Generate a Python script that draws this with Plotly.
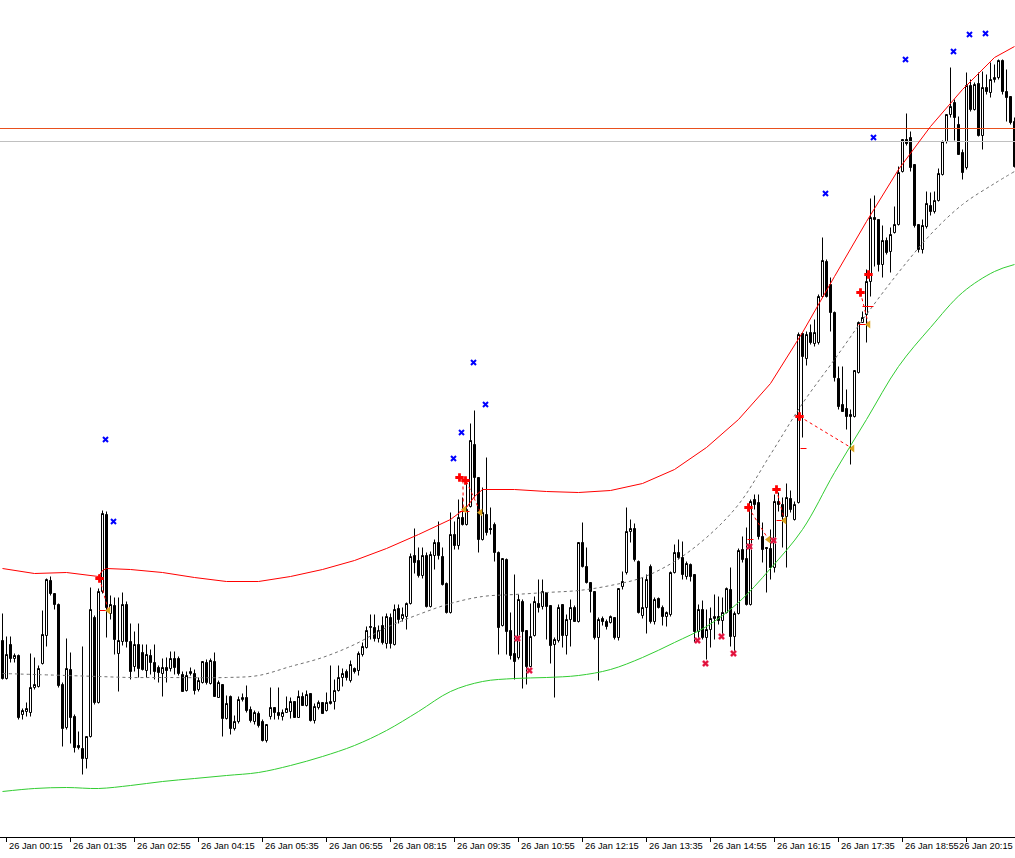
import datetime as dt
import plotly.graph_objects as go

# ---------------- data (price in points) ----------------
start = dt.datetime(2025, 1, 26, 0, 10)
n_bars = 254
bar = list(range(n_bars))
times = [start + dt.timedelta(minutes=5 * k) for k in bar]

open_ = [359,321,355,341,344,285,288,287,312,313,
         336,364,419,406,395,315,272,330,283,254,
         251,241,263,382,297,408,485,386,394,346,
         358,395,358,333,355,347,329,344,337,332,
         326,332,331,341,341,325,309,326,326,310,
         317,337,316,338,302,315,281,303,271,278,
         300,302,290,278,286,278,259,283,292,287,
         283,287,288,298,282,303,294,306,279,292,
         297,289,296,298,309,322,328,319,331,329,
         345,352,372,372,361,374,356,382,355,391,
         381,383,396,444,439,424,444,393,444,457,
         443,416,387,465,454,482,475,493,555,522,
         460,485,471,475,447,374,440,369,346,342,
         398,369,333,364,396,393,407,394,355,359,
         395,364,380,392,378,457,433,417,408,362,
         381,378,377,382,362,413,427,468,471,438,
         384,392,433,378,401,392,383,385,427,447,
         442,423,435,425,368,390,362,370,381,383,
         379,387,410,363,386,450,441,395,500,497,
         463,452,451,432,498,495,483,501,480,497,
         666,641,667,656,657,703,738,715,687,621,
         595,591,585,583,627,677,685,718,782,780,
         735,759,748,767,775,828,860,862,835,775,
         750,773,794,788,799,825,858,885,897,875,
         847,832,914,890,916,864,912,907,920,922,
         939,908,903,878]

high = [386,363,363,346,345,291,297,346,342,334,
        389,421,423,406,396,317,361,347,285,268,
        353,263,412,384,411,489,488,404,402,402,
        407,398,376,368,376,355,355,350,355,334,
        341,342,348,348,343,328,328,332,330,322,
        338,340,341,347,319,315,304,304,284,303,
        306,314,293,289,288,280,275,312,292,312,
        290,303,302,298,309,307,309,306,296,299,
        297,307,334,320,334,331,330,339,332,348,
        357,373,385,385,374,383,386,386,395,395,
        392,397,446,471,452,452,447,448,460,478,
        452,417,487,478,500,502,520,576,589,522,
        512,542,492,477,448,441,441,387,425,405,
        400,369,396,403,420,420,407,394,362,395,
        395,385,400,394,457,477,452,417,408,382,
        383,380,384,382,411,428,492,480,476,439,
        422,425,435,402,402,394,388,428,455,460,
        458,438,436,425,395,399,390,392,405,403,
        402,412,432,388,451,463,472,500,505,505,
        477,452,470,505,507,502,516,509,498,667,
        667,668,675,680,705,762,740,722,688,633,
        633,610,590,629,678,688,730,801,804,780,
        774,762,772,793,833,860,886,868,835,775,
        780,808,807,808,831,859,885,932,900,883,
        850,927,920,917,927,928,925,937,935,940,
        940,930,903,882]

low = [320,320,337,337,280,280,283,283,310,312,
       335,353,404,390,312,253,270,256,247,250,
       225,231,262,295,296,406,362,380,345,308,
       354,352,320,328,322,329,322,325,320,317,
       303,317,328,325,324,308,308,324,305,308,
       316,315,315,303,302,263,280,265,269,276,
       298,287,277,275,272,258,257,280,280,280,
       279,287,281,282,282,294,293,278,276,290,
       286,288,295,290,308,313,319,317,326,324,
       343,351,360,358,357,355,351,351,354,376,
       378,370,395,426,422,421,392,392,430,440,
       414,386,386,450,450,474,474,492,502,447,
       459,464,465,438,345,373,345,340,320,340,
       311,315,332,363,387,390,360,336,302,357,
       352,345,353,378,377,432,416,387,360,319,
       374,370,376,360,359,410,425,457,438,386,
       381,366,376,375,391,374,373,383,426,440,
       420,420,418,357,359,360,340,352,360,375,
       363,386,353,348,385,437,394,394,490,460,
       437,407,420,427,488,452,432,487,479,496,
       562,634,655,653,655,702,702,668,618,590,
       588,570,535,582,626,677,657,703,733,728,
       722,745,727,766,774,827,854,828,772,747,
       746,771,784,786,798,824,856,882,859,845,
       820,830,888,889,863,850,905,902,917,920,
       905,878,875,832]

close = [321,345,341,344,282,289,291,312,315,331,
         365,420,406,395,314,271,331,282,252,252,
         241,263,390,297,408,486,392,395,360,359,
         395,358,328,355,331,330,345,337,328,327,
         332,329,341,332,326,308,324,328,309,319,
         338,317,339,303,317,281,296,271,278,300,
         302,289,279,287,274,259,275,292,287,284,
         287,291,298,282,303,294,305,279,293,297,
         286,297,298,309,322,326,322,335,328,346,
         353,369,373,361,369,357,383,356,390,380,
         385,396,443,437,424,444,393,445,457,444,
         415,387,465,454,482,475,490,559,522,460,
         487,467,470,447,372,441,368,344,338,400,
         368,333,363,398,392,408,393,354,360,392,
         364,380,392,378,457,433,417,408,362,380,
         378,373,383,362,411,418,468,471,440,387,
         392,420,378,400,392,383,387,427,447,442,
         425,436,423,368,390,362,370,381,383,379,
         387,411,363,386,449,440,395,498,495,463,
         450,451,432,498,495,483,502,490,495,665,
         643,665,657,667,703,739,703,687,622,593,
         588,583,583,629,677,682,718,782,780,735,
         759,747,765,775,827,860,856,832,774,750,
         774,796,788,799,826,858,885,893,882,845,
         827,914,890,915,864,912,908,920,922,939,
         908,902,877,833]

# envelope bands (bar index, value)
upper_bar = [0,8,16,24,25,26,32,40,48,56,64,72,80,88,96,104,112,116,118,120,128,136,
             144,152,160,168,176,184,192,200,208,216,224,232,240,248,253]
upper_val = [431,426,427,423,429,431,430,427,422,418,418,423,430,439,451,465,480,492,503,510,
             510,508,507,509,516,530,552,580,616,667,723,778,830,873,910,942,953]

mid_bar = [0,16,24,32,40,56,64,72,80,88,96,104,112,120,128,136,144,152,160,168,176,184,
           192,200,208,216,224,232,240,248,253]
mid_val = [326,324,323,322,322,322,324,333,342,355,372,385,396,403,405,407,409,414,422,438,
           462,495,545,596,640,685,727,765,795,816,828]

lower_bar = [0,8,16,24,32,40,48,56,64,72,80,88,96,104,112,120,128,136,144,152,160,168,176,
             184,192,200,208,216,224,232,240,248,253]
lower_val = [208,211,212,211,214,218,221,224,227,234,243,254,269,288,308,318,321,322,324,330,
             342,357,373,397,431,470,527,580,633,672,707,728,735]

# horizontal price levels
level_red = 871
level_grey = 858

# signal markers (bar position, price)
blue_pos = [25.75, 27.75, 112.75, 114.75, 117.75, 120.75, 205.75, 217.75, 225.75, 237.75, 241.75, 245.75]
blue_val = [560, 478, 541, 567, 637, 595, 806, 862, 940, 948, 965, 966]

redx_pos = [128.75, 131.75, 173.75, 175.75, 179.75, 182.75, 186.75, 192.75]
redx_val = [361, 329, 359, 336, 363, 346, 453, 459]

plus_pos = [24.25, 114.25, 115.75, 186.5, 193.5, 199.25, 214.5, 216.5]
plus_val = [421, 522, 519, 492, 510, 583, 707, 725]

tri_pos = [26.5, 115.5, 119.5, 191.5, 195.5, 212.5, 216.5]
tri_val = [389, 490, 487, 460, 479, 551, 675]

# dashed links: (pos0, val0, pos1, val1)
links = [(24.25, 421, 26.5, 389), (115.1, 519, 115.2, 490), (116.0, 518, 119.5, 487),
         (186.5, 492, 191.5, 460), (193.5, 510, 195.5, 479), (199.25, 583, 212.5, 551),
         (214.5, 707, 216.5, 675)]
# short level ticks: (pos0, pos1, val)
ticks_lv = [(24.25, 26.25, 389), (114.25, 116.75, 488), (186.25, 187.75, 460),
            (193.5, 195.0, 479), (199.5, 201.0, 551), (215.0, 217.75, 693), (214.0, 216.5, 675)]

tick_bars = [1 + 16 * j for j in range(16)]
tick_text = [times[k].strftime("%d %b %H:%M") for k in tick_bars]

X_RANGE = [-0.625, 253.125]
Y_RANGE = [162.5, 999.5]

# ---------------- figure ----------------
fig = go.Figure()

fig.add_trace(go.Candlestick(
    x=bar, open=open_, high=high, low=low, close=close,
    increasing=dict(line=dict(color="black", width=1), fillcolor="white"),
    decreasing=dict(line=dict(color="black", width=1), fillcolor="black"),
    whiskerwidth=0, hoverinfo="skip", showlegend=False))

fig.add_trace(go.Scatter(x=X_RANGE, y=[level_red, level_red], mode="lines",
                         line=dict(color="#E8501E", width=1), hoverinfo="skip"))
fig.add_trace(go.Scatter(x=X_RANGE, y=[level_grey, level_grey], mode="lines",
                         line=dict(color="#C0C0C0", width=1), hoverinfo="skip"))

fig.add_trace(go.Scatter(x=upper_bar, y=upper_val, mode="lines",
                         line=dict(color="#FF0000", width=1), hoverinfo="skip"))
fig.add_trace(go.Scatter(x=mid_bar, y=mid_val, mode="lines", line_shape="spline",
                         line=dict(color="#707070", width=1, dash="3px,3px"), hoverinfo="skip"))
fig.add_trace(go.Scatter(x=lower_bar, y=lower_val, mode="lines", line_shape="spline",
                         line=dict(color="#32CD32", width=1), hoverinfo="skip"))

for p0, v0, p1, v1 in links:
    fig.add_trace(go.Scatter(x=[p0, p1], y=[v0, v1], mode="lines",
                             line=dict(color="#FF0000", width=1, dash="3px,3px"), hoverinfo="skip"))
for p0, p1, v in ticks_lv:
    fig.add_trace(go.Scatter(x=[p0, p1], y=[v, v], mode="lines",
                             line=dict(color="#FF0000", width=1), hoverinfo="skip"))

fig.add_trace(go.Scatter(x=blue_pos, y=blue_val, mode="markers",
                         marker=dict(symbol="x-thin", size=5, line=dict(color="#0000FF", width=2)),
                         hoverinfo="skip"))
fig.add_trace(go.Scatter(x=redx_pos, y=redx_val, mode="markers",
                         marker=dict(symbol="x", size=6, color="#E0103A",
                                     line=dict(color="#FF90B0", width=0.5)),
                         hoverinfo="skip"))
fig.add_trace(go.Scatter(x=plus_pos, y=plus_val, mode="markers",
                         marker=dict(symbol="cross", size=7, color="#FF0000"),
                         hoverinfo="skip"))
fig.add_trace(go.Scatter(x=tri_pos, y=tri_val, mode="markers",
                         marker=dict(symbol="triangle-left", size=7, color="#DAA520"),
                         hoverinfo="skip"))

# time labels, left-aligned just right of each tick (terminal style);
# the last one is kept inside the page by anchoring it to the right edge
label_font = dict(family="Liberation Sans, Arial, sans-serif", size=9.3, color="black")
for i, (k, txt) in enumerate(zip(tick_bars, tick_text)):
    if i < len(tick_bars) - 1:
        fig.add_annotation(x=k, y=0, xref="x", yref="paper", text=txt, showarrow=False,
                           xanchor="left", yanchor="top", yshift=-2, font=label_font)
    else:
        fig.add_annotation(x=1, y=0, xref="paper", yref="paper", text=txt, showarrow=False,
                           xanchor="right", yanchor="top", yshift=-2, font=label_font)

fig.update_layout(
    width=1015, height=858,
    margin=dict(l=0, r=0, t=0, b=21, autoexpand=False),
    paper_bgcolor="white", plot_bgcolor="white",
    showlegend=False,
    boxgap=0.5, boxgroupgap=0,
    xaxis=dict(range=X_RANGE, showgrid=False, zeroline=False, automargin=False,
               showline=True, linecolor="black", linewidth=1,
               ticks="outside", ticklen=4, tickcolor="black", tickwidth=1,
               tickvals=tick_bars, showticklabels=False,
               rangeslider=dict(visible=False)),
    yaxis=dict(range=Y_RANGE, visible=False, showgrid=False, zeroline=False),
)

fig.write_html("out.html")
